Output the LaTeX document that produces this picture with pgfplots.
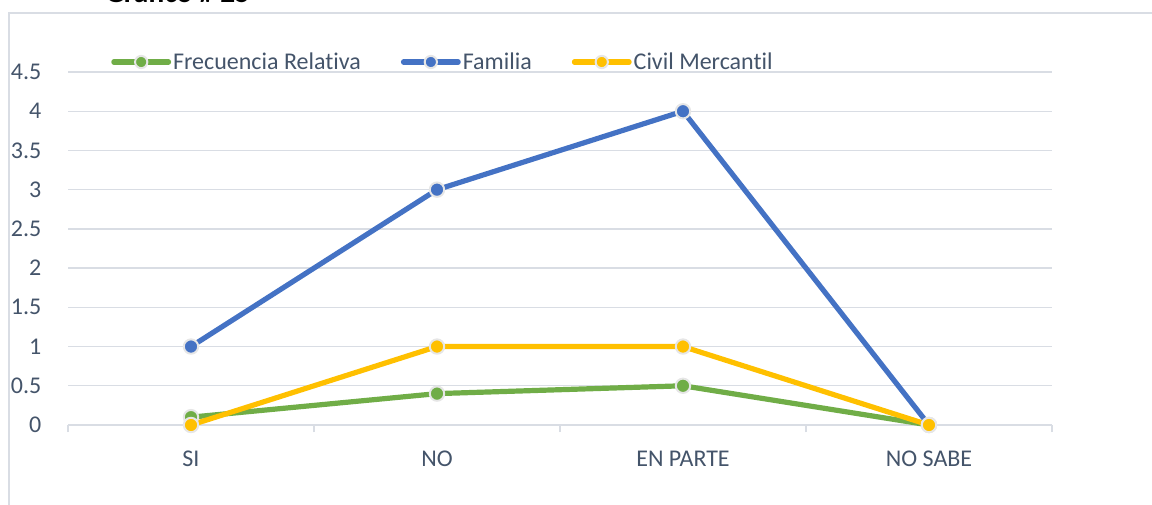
\documentclass[border=0pt]{standalone}
\usepackage{pgfplots}
\pgfplotsset{compat=1.18}
\usepackage{fontspec}
\setmainfont{Carlito}[Ligatures={NoCommon,NoContextual}]
\definecolor{txt}{HTML}{44546A}
\definecolor{gridc}{HTML}{D9DDE4}
\definecolor{framec}{HTML}{D9DDE4}
\definecolor{cgreen}{HTML}{70AD47}
\definecolor{cblue}{HTML}{4472C4}
\definecolor{cyellow}{HTML}{FFC000}
\definecolor{mborder}{HTML}{E6E6E6}
\begin{document}
\begin{tikzpicture}[x=1pt,y=1pt]
\useasboundingbox (0,0) rectangle (864,378);
\draw[framec, line width=1.3pt] (6.75,-20) rectangle (900,368.25);
\node[anchor=base west, font=\bfseries\fontsize{22}{26}\selectfont, inner sep=0pt] at (78.75,376.2) {Gráfico \# 25};
\begin{axis}[
  at={(51pt,59.25pt)}, anchor=south west,
  scale only axis, width=738pt, height=264.75pt,
  xmin=-0.5, xmax=3.5, ymin=0, ymax=4.5,
  clip=false,
  axis x line*=bottom, axis y line*=left,
  x axis line style={-, draw=gridc, line width=1pt},
  y axis line style={draw=none},
  ytick={0,0.5,1,1.5,2,2.5,3,3.5,4,4.5},
  yticklabels={0,0.5,1,1.5,2,2.5,3,3.5,4,4.5},
  ytick style={draw=none},
  ymajorgrids, grid style={gridc, line width=1pt},
  yticklabel style={anchor=east, xshift=-11pt, text=txt, font=\fontsize{18}{22}\selectfont},
  xtick={-0.5,0.5,1.5,2.5,3.5},
  xticklabels={},
  tick align=outside, major tick length=5.5pt,
  xtick style={draw=gridc, line width=1pt},
  extra x ticks={0,1,2,3},
  extra x tick labels={SI,NO,EN PARTE,NO SABE},
  extra x tick style={major tick length=0pt, xtick style={draw=none}},
  xticklabel style={anchor=base, yshift=-30.75pt, text=txt, font=\fontsize{18}{22}\selectfont},
  every axis plot/.append style={line width=3.9pt, line join=round, line cap=round,
     mark=*, mark size=5.4pt},
  legend columns=3,
  legend cell align=left,
  legend image code/.code={
    \draw[#1, mark repeat=2, mark phase=2, mark size=4.6pt] plot coordinates {(0pt,0pt) (20.5pt,0pt) (41pt,0pt)};
  },
  legend style={draw=none, fill=none, inner sep=0pt, column sep=0pt,
    at={(axis description cs:0.0437,1.0283)}, anchor=west,
    nodes={inner sep=1.5pt, text=txt, font=\fontsize{18}{22}\selectfont},
    /tikz/every even column/.append style={column sep=28.5pt}},
]
\addplot[cgreen, mark options={fill=cgreen, draw=mborder, line width=1.5pt}] coordinates {(0,0.1) (1,0.4) (2,0.5) (3,0)};
\addlegendentry{Frecuencia Relativa}
\addplot[cblue, mark options={fill=cblue, draw=mborder, line width=1.5pt}] coordinates {(0,1) (1,3) (2,4) (3,0)};
\addlegendentry{Familia}
\addplot[cyellow, mark options={fill=cyellow, draw=mborder, line width=1.5pt}] coordinates {(0,0) (1,1) (2,1) (3,0)};
\addlegendentry{Civil Mercantil}
\end{axis}
\end{tikzpicture}
\end{document}
